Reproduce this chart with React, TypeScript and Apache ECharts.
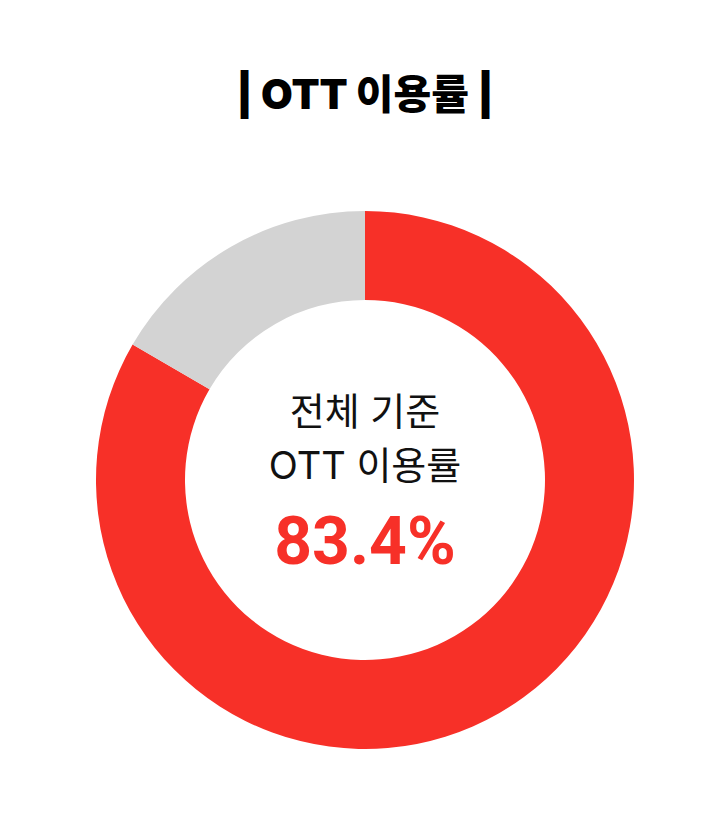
import React, { useEffect, useRef } from "react";
import * as echarts from "echarts";

const chartTitle = "| OTT 이용률 |";
const categories = ["OTT 이용", "미이용"];
const values = [83.4, 16.6];
const colors = ["#F73028", "#D3D3D3"];
const centerLines = ["전체 기준", "OTT 이용률"];
const centerValue = "83.4%";

const FONT = "Inter, 'Noto Sans CJK KR', 'Noto Sans', sans-serif";
const NUM_FONT = "Roboto, Inter, sans-serif";

export default function App() {
  const ref = useRef<HTMLDivElement>(null);
  useEffect(() => {
    document.body.style.margin = "0";
    const chart = echarts.init(ref.current!, null, { renderer: "svg" });
    chart.setOption({
      animation: false,
      backgroundColor: "#ffffff",
      series: [
        {
          type: "pie",
          center: [365, 480],
          radius: [180, 269],
          startAngle: 90,
          clockwise: true,
          silent: true,
          label: { show: false },
          labelLine: { show: false },
          itemStyle: { borderWidth: 0 },
          data: categories.map((c, i) => ({
            name: c,
            value: values[i],
            itemStyle: { color: colors[i] },
          })),
        },
      ],
      graphic: [
        {
          type: "text",
          x: 365,
          y: 94,
          style: {
            text: chartTitle,
            fontFamily: FONT,
            fontWeight: 900,
            fontSize: 41,
            fill: "#000000",
            textAlign: "center",
            textVerticalAlign: "middle",
          },
        },
        {
          type: "text",
          x: 365,
          y: 411,
          style: {
            text: centerLines[0],
            fontFamily: FONT,
            fontSize: 38,
            fill: "#111111",
            textAlign: "center",
            textVerticalAlign: "middle",
          },
        },
        {
          type: "text",
          x: 365,
          y: 465,
          style: {
            text: centerLines[1],
            fontFamily: FONT,
            fontSize: 38,
            fill: "#111111",
            textAlign: "center",
            textVerticalAlign: "middle",
          },
        },
        {
          type: "text",
          x: 365,
          y: 541,
          style: {
            text: centerValue,
            fontFamily: NUM_FONT,
            fontWeight: "bold",
            fontSize: 66,
            fill: colors[0],
            textAlign: "center",
            textVerticalAlign: "middle",
          },
        },
      ],
    });
    return () => chart.dispose();
  }, []);
  return <div ref={ref} style={{ width: 719, height: 827 }} />;
}
